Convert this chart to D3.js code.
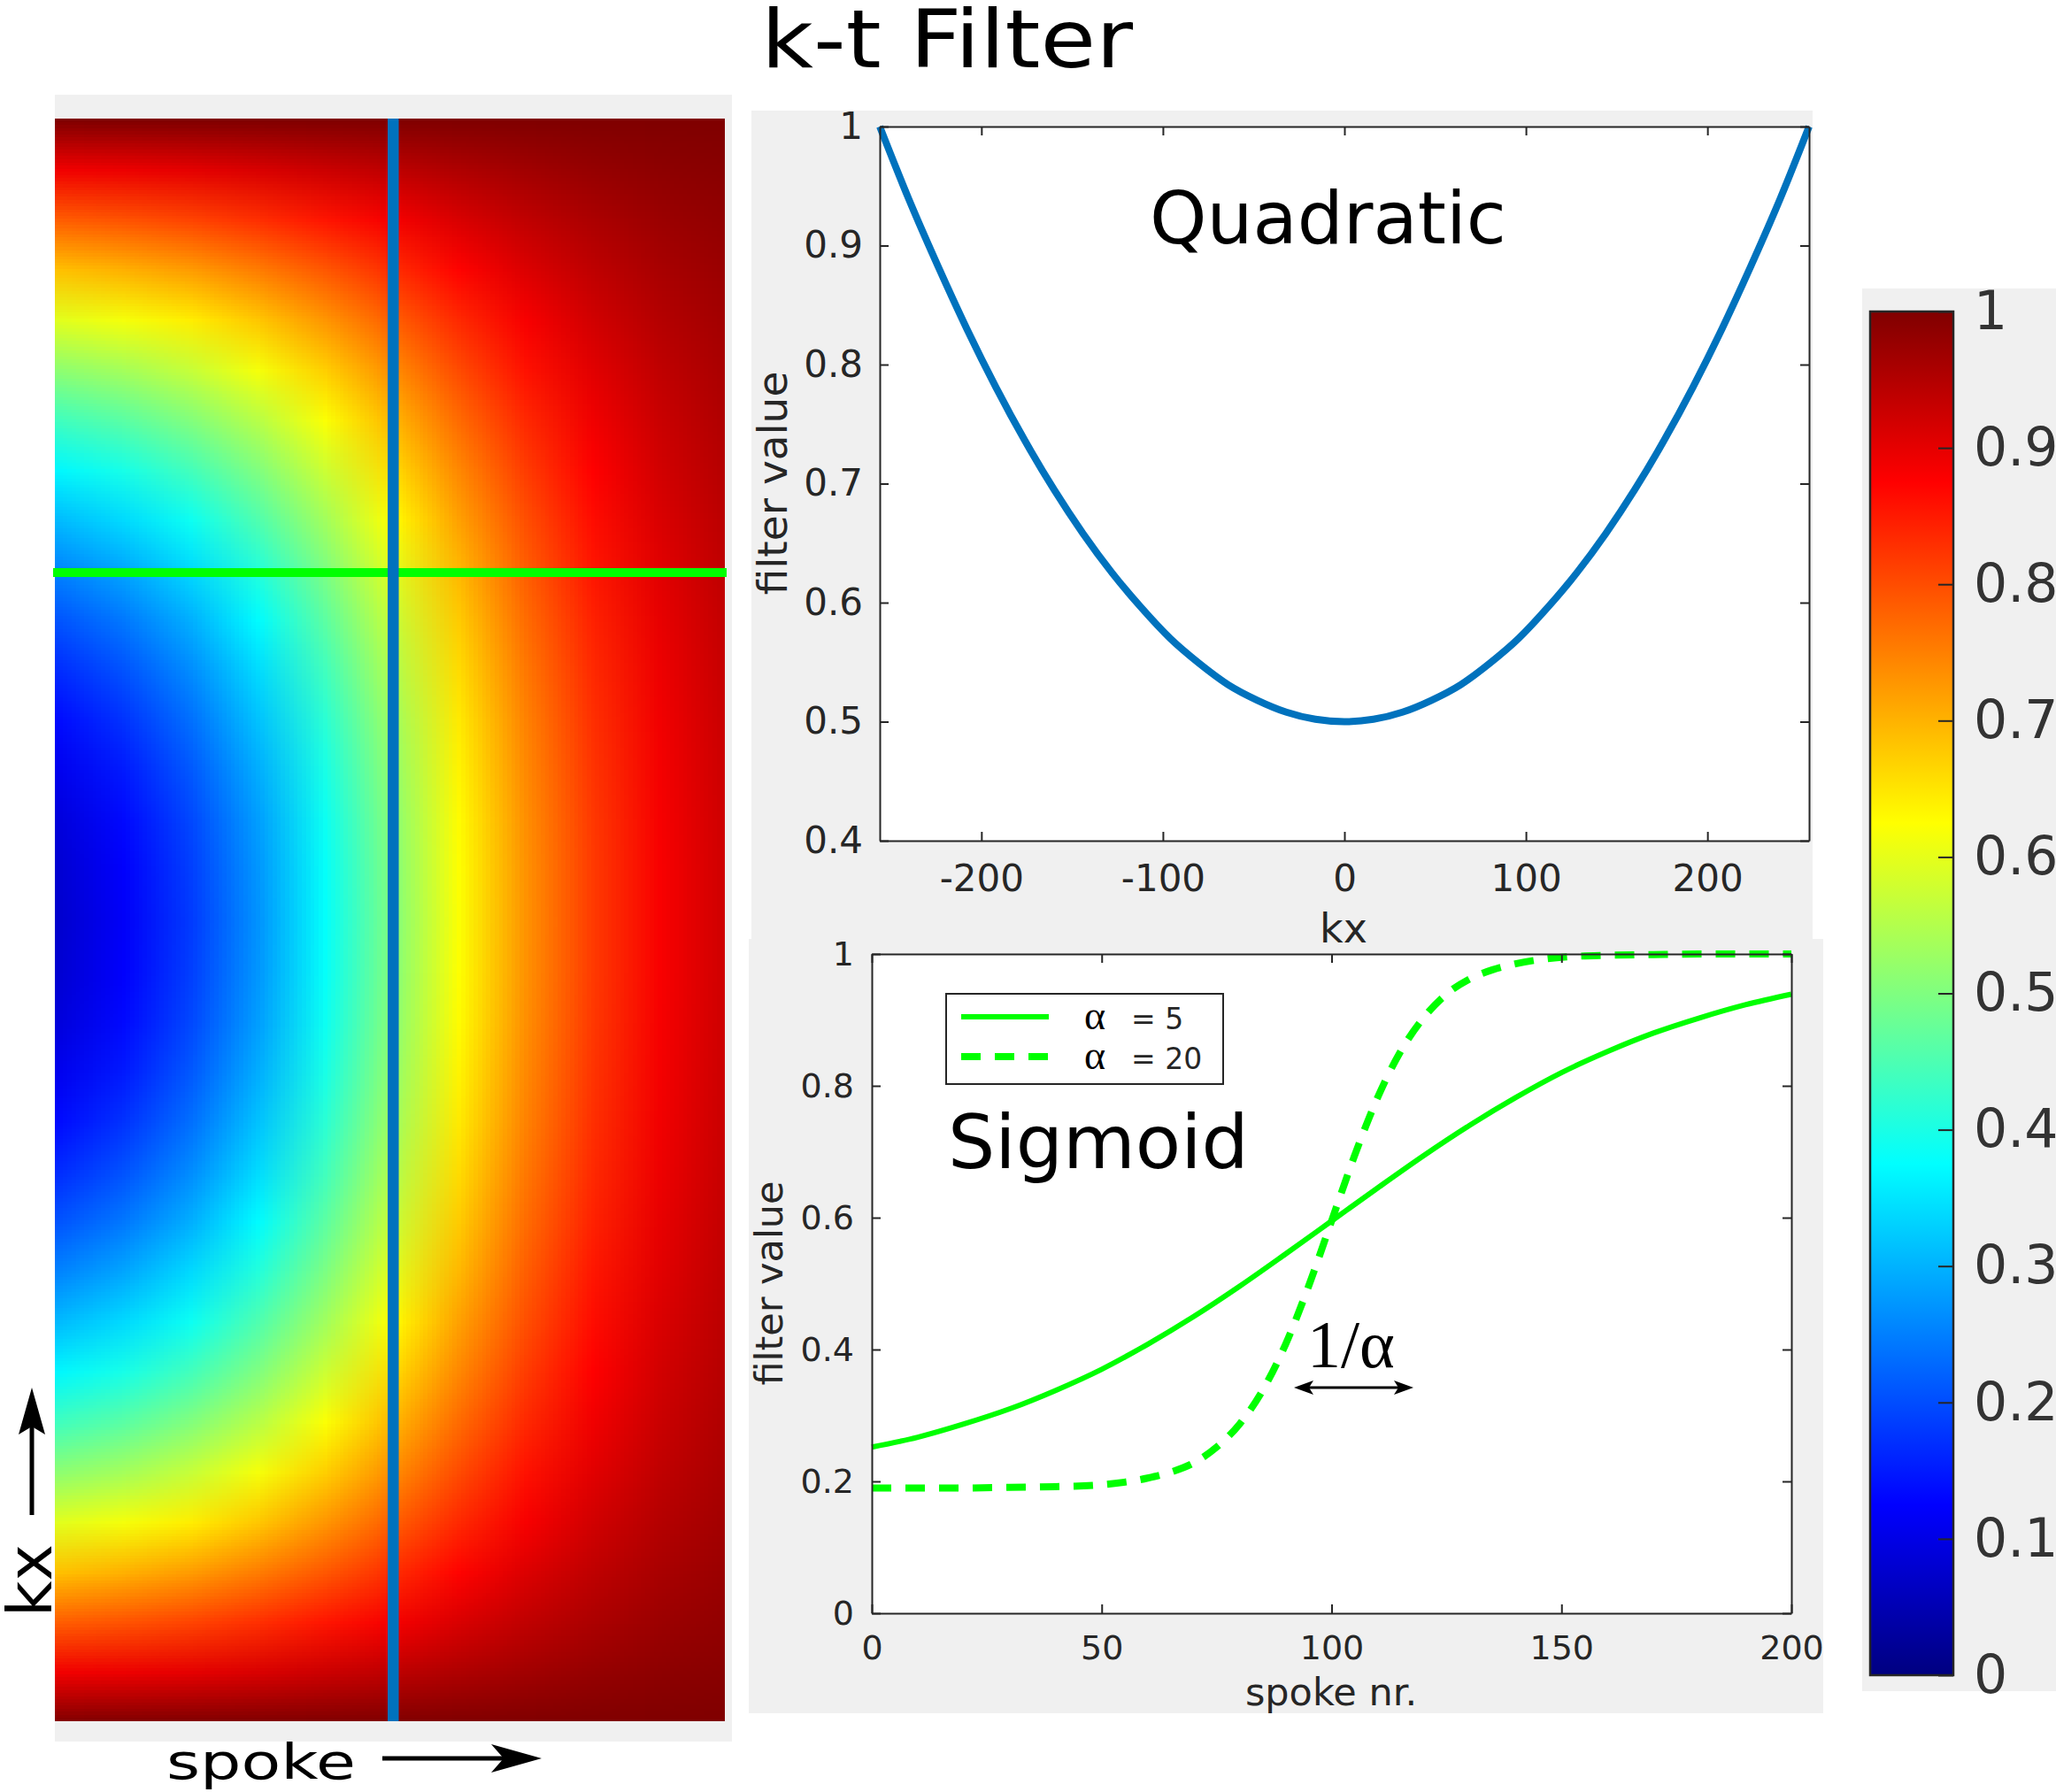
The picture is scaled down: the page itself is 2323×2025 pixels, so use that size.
<!DOCTYPE html>
<html><head><meta charset="utf-8">
<script src="https://cdn.jsdelivr.net/npm/d3@7"></script>
<style>html,body{margin:0;padding:0;background:#fff}svg{display:block}</style>
</head><body>
<script>
// ---------------- DATA ----------------
const heatSpokes = [0,20,40,60,80,100,120,140,160,180,200];
const heatKx = [256,240,224,208,192,176,160,144,128,112,96,80,64,48,32,16,0,-16,-32,-48,-64,-80,-96,-112,-128,-144,-160,-176,-192,-208,-224,-240,-256];
const heatValues = [
 [1,1,1,1,1,1,1,1,1,1,1],
 [0.888,0.893,0.901,0.912,0.925,0.939,0.954,0.967,0.978,0.986,0.991],
 [0.783,0.794,0.808,0.829,0.854,0.883,0.912,0.937,0.957,0.972,0.982],
 [0.686,0.701,0.722,0.752,0.789,0.830,0.872,0.909,0.938,0.960,0.974],
 [0.596,0.615,0.642,0.680,0.728,0.781,0.835,0.882,0.920,0.948,0.967],
 [0.513,0.536,0.569,0.615,0.672,0.736,0.801,0.858,0.904,0.937,0.960],
 [0.437,0.463,0.502,0.554,0.621,0.695,0.770,0.836,0.889,0.927,0.954],
 [0.368,0.398,0.441,0.500,0.574,0.658,0.742,0.816,0.875,0.919,0.948],
 [0.307,0.339,0.387,0.452,0.533,0.625,0.717,0.798,0.863,0.911,0.943],
 [0.253,0.288,0.339,0.409,0.497,0.596,0.695,0.783,0.853,0.904,0.939],
 [0.206,0.243,0.297,0.372,0.465,0.570,0.676,0.769,0.843,0.898,0.935],
 [0.166,0.205,0.262,0.340,0.438,0.549,0.659,0.757,0.835,0.892,0.932],
 [0.134,0.174,0.234,0.315,0.416,0.531,0.646,0.748,0.829,0.888,0.929],
 [0.108,0.150,0.211,0.295,0.399,0.518,0.636,0.741,0.824,0.885,0.927],
 [0.090,0.133,0.195,0.280,0.387,0.508,0.628,0.735,0.820,0.883,0.925],
 [0.080,0.123,0.186,0.272,0.380,0.502,0.624,0.732,0.818,0.881,0.924],
 [0.076,0.119,0.182,0.269,0.378,0.500,0.622,0.731,0.818,0.881,0.924],
 [0.080,0.123,0.186,0.272,0.380,0.502,0.624,0.732,0.818,0.881,0.924],
 [0.090,0.133,0.195,0.280,0.387,0.508,0.628,0.735,0.820,0.883,0.925],
 [0.108,0.150,0.211,0.295,0.399,0.518,0.636,0.741,0.824,0.885,0.927],
 [0.134,0.174,0.234,0.315,0.416,0.531,0.646,0.748,0.829,0.888,0.929],
 [0.166,0.205,0.262,0.340,0.438,0.549,0.659,0.757,0.835,0.892,0.932],
 [0.206,0.243,0.297,0.372,0.465,0.570,0.676,0.769,0.843,0.898,0.935],
 [0.253,0.288,0.339,0.409,0.497,0.596,0.695,0.783,0.853,0.904,0.939],
 [0.307,0.339,0.387,0.452,0.533,0.625,0.717,0.798,0.863,0.911,0.943],
 [0.368,0.398,0.441,0.500,0.574,0.658,0.742,0.816,0.875,0.919,0.948],
 [0.437,0.463,0.502,0.554,0.621,0.695,0.770,0.836,0.889,0.927,0.954],
 [0.513,0.536,0.569,0.615,0.672,0.736,0.801,0.858,0.904,0.937,0.960],
 [0.596,0.615,0.642,0.680,0.728,0.781,0.835,0.882,0.920,0.948,0.967],
 [0.686,0.701,0.722,0.752,0.789,0.830,0.872,0.909,0.938,0.960,0.974],
 [0.783,0.794,0.808,0.829,0.854,0.883,0.912,0.937,0.957,0.972,0.982],
 [0.888,0.893,0.901,0.912,0.925,0.939,0.954,0.967,0.978,0.986,0.991],
 [1,1,1,1,1,1,1,1,1,1,1]
];
const markerKx = 111;      // green horizontal line
const markerSpoke = 101;   // blue vertical line

const quadKx = [-256,-240,-224,-208,-192,-176,-160,-144,-128,-112,-96,-80,-64,-48,-32,-16,0,16,32,48,64,80,96,112,128,144,160,176,192,208,224,240,256];
const quadValues = [1.000,0.939,0.883,0.830,0.781,0.736,0.695,0.658,0.625,0.596,0.570,0.549,0.531,0.518,0.508,0.502,0.500,0.502,0.508,0.518,0.531,0.549,0.570,0.596,0.625,0.658,0.695,0.736,0.781,0.830,0.883,0.939,1.000];

const sig5Spoke = [0,10,20,30,40,50,60,70,80,90,100,110,120,130,140,150,160,170,180,190,200];
const sig5Values = [0.252,0.267,0.287,0.310,0.338,0.370,0.408,0.450,0.496,0.545,0.595,0.645,0.694,0.740,0.782,0.820,0.852,0.880,0.903,0.923,0.939];
const sig20Spoke = [0,10,20,30,40,50,60,65,70,75,80,85,90,95,100,105,110,115,120,125,130,135,140,150,160,170,180,190,200];
const sig20Values = [0.190,0.190,0.190,0.191,0.192,0.195,0.205,0.214,0.228,0.252,0.287,0.338,0.408,0.496,0.595,0.694,0.782,0.852,0.903,0.939,0.962,0.976,0.985,0.995,0.998,0.999,1.000,1.000,1.000];

const quadXTicks = [-200,-100,0,100,200];
const quadYTicks = [0.4,0.5,0.6,0.7,0.8,0.9,1];
const sigXTicks = [0,50,100,150,200];
const sigYTicks = [0,0.2,0.4,0.6,0.8,1];
const cbTicks = [0,0.1,0.2,0.3,0.4,0.5,0.6,0.7,0.8,0.9,1];
const legendAlphas = ["5","20"];

const jetStops = [0,0.125,0.375,0.625,0.875,1];
const jetColors = ["#000080","#0000ff","#00ffff","#ffff00","#ff0000","#800000"];

// ---------------- DRAW ----------------
const FONT = "DejaVu Sans";
const AX = "#262626";
const svg = d3.select("body").append("svg").attr("width",2323).attr("height",2025);
const jet = d3.scaleLinear().domain(jetStops).range(jetColors).clamp(true);
const defs = svg.append("defs");
const fmt = d => String(d);   // plain hyphen-minus like MATLAB

// title
svg.append("text").attr("x",860).attr("y",76).attr("font-family",FONT).attr("font-size",90)
  .attr("textLength",420).attr("lengthAdjust","spacingAndGlyphs").attr("fill","#000").text("k-t Filter");

// ---- heatmap panel ----
svg.append("rect").attr("x",62).attr("y",107).attr("width",765).attr("height",1861).attr("fill","#f0f0f0");
const hx = d3.scaleLinear().domain([0,200]).range([62,819]);
const hy = d3.scaleLinear().domain([256,-256]).range([134,1945]);
defs.append("clipPath").attr("id","heatclip").append("rect")
  .attr("x",hx(0)).attr("y",hy(256)).attr("width",hx(200)-hx(0)).attr("height",hy(-256)-hy(256));
const cvs = document.createElement("canvas");
cvs.width = heatSpokes.length; cvs.height = heatKx.length;
const ctx = cvs.getContext("2d");
heatValues.forEach((row,i)=>row.forEach((v,j)=>{ctx.fillStyle = jet(v); ctx.fillRect(j,i,1,1);}));
const cellW = hx(heatSpokes[1]) - hx(heatSpokes[0]);
const cellH = hy(heatKx[1]) - hy(heatKx[0]);
svg.append("image").attr("href",cvs.toDataURL())
  .attr("x",hx(heatSpokes[0]) - cellW/2).attr("y",hy(heatKx[0]) - cellH/2)
  .attr("width",cellW*heatSpokes.length).attr("height",cellH*heatKx.length)
  .attr("preserveAspectRatio","none").attr("clip-path","url(#heatclip)");
// marker lines
svg.append("line").attr("x1",hx(0)-2).attr("x2",hx(200)+2).attr("y1",hy(markerKx)).attr("y2",hy(markerKx))
  .attr("stroke","#00ff00").attr("stroke-width",10);
svg.append("line").attr("x1",hx(markerSpoke)).attr("x2",hx(markerSpoke)).attr("y1",hy(256)).attr("y2",hy(-256))
  .attr("stroke","#0072bd").attr("stroke-width",12.5);

// arrows for heatmap
svg.append("line").attr("x1",36).attr("x2",36).attr("y1",1712).attr("y2",1600).attr("stroke","#000").attr("stroke-width",5);
svg.append("path").attr("d","M36,1568 L51,1621 L36,1612 L21,1621 Z").attr("fill","#000");
svg.append("line").attr("x1",432).attr("x2",580).attr("y1",1987).attr("y2",1987).attr("stroke","#000").attr("stroke-width",5);
svg.append("path").attr("d","M612,1987 L555,1971 L569,1987 L555,2003 Z").attr("fill","#000");
svg.append("text").attr("transform","translate(58,1827) rotate(-90)").attr("font-family",FONT).attr("font-size",70)
  .attr("fill","#000").text("kx");
svg.append("text").attr("x",188).attr("y",2010).attr("font-family",FONT).attr("font-size",56)
  .attr("textLength",214).attr("lengthAdjust","spacingAndGlyphs").attr("fill","#000").text("spoke");

// helper for axis style
function styleAxis(g, fs){
  g.attr("font-family",FONT).attr("font-size",fs);
  g.selectAll("path.domain").attr("stroke",AX).attr("stroke-width",2);
  g.selectAll(".tick line").attr("stroke",AX).attr("stroke-width",2);
  g.selectAll(".tick text").attr("fill",AX);
}

// ---- quadratic panel ----
svg.append("rect").attr("x",849).attr("y",125).attr("width",1199).attr("height",937).attr("fill","#f0f0f0");
const qx = d3.scaleLinear().domain([-256,256]).range([994,2044]);
const qy = d3.scaleLinear().domain([0.4,1]).range([950,143]);
svg.append("rect").attr("x",qx(-256)).attr("y",qy(1)).attr("width",qx(256)-qx(-256)).attr("height",qy(0.4)-qy(1)).attr("fill","#fff");
svg.append("path").datum(quadKx.map((k,i)=>[k,quadValues[i]]))
  .attr("d",d3.line().x(d=>qx(d[0])).y(d=>qy(d[1])).curve(d3.curveMonotoneX))
  .attr("fill","none").attr("stroke","#0072bd").attr("stroke-width",8);
styleAxis(svg.append("g").attr("transform",`translate(0,${qy(0.4)})`)
  .call(d3.axisBottom(qx).tickValues(quadXTicks).tickSize(-10).tickSizeOuter(0).tickPadding(27).tickFormat(fmt)),42);
styleAxis(svg.append("g").attr("transform",`translate(0,${qy(1)})`)
  .call(d3.axisTop(qx).tickValues(quadXTicks).tickSize(-10).tickSizeOuter(0).tickFormat(()=>"")),42);
styleAxis(svg.append("g").attr("transform",`translate(${qx(-256)},0)`)
  .call(d3.axisLeft(qy).tickValues(quadYTicks).tickSize(-10).tickSizeOuter(0).tickPadding(19).tickFormat(fmt)),42);
styleAxis(svg.append("g").attr("transform",`translate(${qx(256)},0)`)
  .call(d3.axisRight(qy).tickValues(quadYTicks).tickSize(-10).tickSizeOuter(0).tickFormat(()=>"")),42);
svg.append("text").attr("transform","translate(889,546) rotate(-90)").attr("text-anchor","middle")
  .attr("font-family",FONT).attr("font-size",47).attr("fill",AX).text("filter value");
svg.append("text").attr("x",1299).attr("y",275).attr("font-family",FONT).attr("font-size",82).attr("fill","#000").text("Quadratic");

// ---- sigmoid panel ----
svg.append("rect").attr("x",846).attr("y",1061).attr("width",1214).attr("height",875).attr("fill","#f0f0f0");
svg.append("text").attr("x",1518).attr("y",1065).attr("text-anchor","middle").attr("font-family",FONT).attr("font-size",46).attr("fill",AX).text("kx");
const sx = d3.scaleLinear().domain([0,200]).range([985,2024]);
const sy = d3.scaleLinear().domain([0,1]).range([1823,1078]);
svg.append("rect").attr("x",sx(0)).attr("y",sy(1)).attr("width",sx(200)-sx(0)).attr("height",sy(0)-sy(1)).attr("fill","#fff");
const sline = d3.line().x(d=>sx(d[0])).y(d=>sy(d[1])).curve(d3.curveMonotoneX);
svg.append("path").datum(sig5Spoke.map((s,i)=>[s,sig5Values[i]])).attr("d",sline)
  .attr("fill","none").attr("stroke","#00ff00").attr("stroke-width",6);
svg.append("path").datum(sig20Spoke.map((s,i)=>[s,sig20Values[i]])).attr("d",sline)
  .attr("fill","none").attr("stroke","#00ff00").attr("stroke-width",8).attr("stroke-dasharray","22,16");
styleAxis(svg.append("g").attr("transform",`translate(0,${sy(0)})`)
  .call(d3.axisBottom(sx).tickValues(sigXTicks).tickSize(-10).tickSizeOuter(0).tickPadding(25).tickFormat(fmt)),38);
styleAxis(svg.append("g").attr("transform",`translate(0,${sy(1)})`)
  .call(d3.axisTop(sx).tickValues(sigXTicks).tickSize(-10).tickSizeOuter(0).tickFormat(()=>"")),38);
styleAxis(svg.append("g").attr("transform",`translate(${sx(0)},0)`)
  .call(d3.axisLeft(sy).tickValues(sigYTicks).tickSize(-10).tickSizeOuter(0).tickPadding(20).tickFormat(fmt)),38);
styleAxis(svg.append("g").attr("transform",`translate(${sx(200)},0)`)
  .call(d3.axisRight(sy).tickValues(sigYTicks).tickSize(-10).tickSizeOuter(0).tickFormat(()=>"")),38);
svg.append("text").attr("transform","translate(884,1450) rotate(-90)").attr("text-anchor","middle")
  .attr("font-family",FONT).attr("font-size",43).attr("fill",AX).text("filter value");
svg.append("text").attr("x",1504).attr("y",1927).attr("text-anchor","middle")
  .attr("font-family",FONT).attr("font-size",43).attr("fill",AX).text("spoke nr.");

// legend
svg.append("rect").attr("x",1069).attr("y",1123).attr("width",313).attr("height",102)
  .attr("fill","#fff").attr("stroke",AX).attr("stroke-width",2);
const legY = [1149,1194];
legendAlphas.forEach((a,i)=>{
  const l = svg.append("line").attr("x1",1086).attr("x2",1185).attr("y1",legY[i]).attr("y2",legY[i])
    .attr("stroke","#00ff00").attr("stroke-width",i===0?6:8);
  if(i===1) l.attr("stroke-dasharray","22,16");
  svg.append("text").attr("x",1225).attr("y",legY[i]+14).attr("font-family","Liberation Serif")
    .attr("font-size",46).attr("fill","#000").text("α");
  svg.append("text").attr("x",1278).attr("y",legY[i]+14).attr("font-family",FONT).attr("font-size",33)
    .attr("fill",AX).text("= " + a);
});
svg.append("text").attr("x",1071).attr("y",1320).attr("font-family",FONT).attr("font-size",84).attr("fill","#000").text("Sigmoid");

// 1/alpha annotation
svg.append("text").attr("x",1477).attr("y",1545).attr("font-family","Liberation Serif").attr("font-size",76)
  .attr("fill","#000").text("1/α");
svg.append("line").attr("x1",1475).attr("x2",1584).attr("y1",1568).attr("y2",1568).attr("stroke","#000").attr("stroke-width",3);
svg.append("path").attr("d","M1462,1568 L1484,1560 L1479,1568 L1484,1576 Z").attr("fill","#000");
svg.append("path").attr("d","M1597,1568 L1575,1560 L1580,1568 L1575,1576 Z").attr("fill","#000");

// ---- colorbar ----
svg.append("rect").attr("x",2104).attr("y",326).attr("width",219).attr("height",1585).attr("fill","#f0f0f0");
const cb = d3.scaleLinear().domain([0,1]).range([1893,352]);
const grad = defs.append("linearGradient").attr("id","jetgrad").attr("x1",0).attr("y1",1).attr("x2",0).attr("y2",0);
jetStops.forEach((s,i)=>grad.append("stop").attr("offset",s).attr("stop-color",jetColors[i]));
svg.append("rect").attr("x",2113).attr("y",cb(1)).attr("width",94).attr("height",cb(0)-cb(1))
  .attr("fill","url(#jetgrad)").attr("stroke",AX).attr("stroke-width",2.5);
const cbAxis = svg.append("g").attr("transform","translate(2207,0)")
  .call(d3.axisRight(cb).tickValues(cbTicks).tickSize(-17).tickSizeOuter(0).tickPadding(23).tickFormat(fmt));
styleAxis(cbAxis,60);
cbAxis.select("path.domain").remove();
cbAxis.selectAll(".tick text").attr("fill","#333");
</script>
</body></html>
